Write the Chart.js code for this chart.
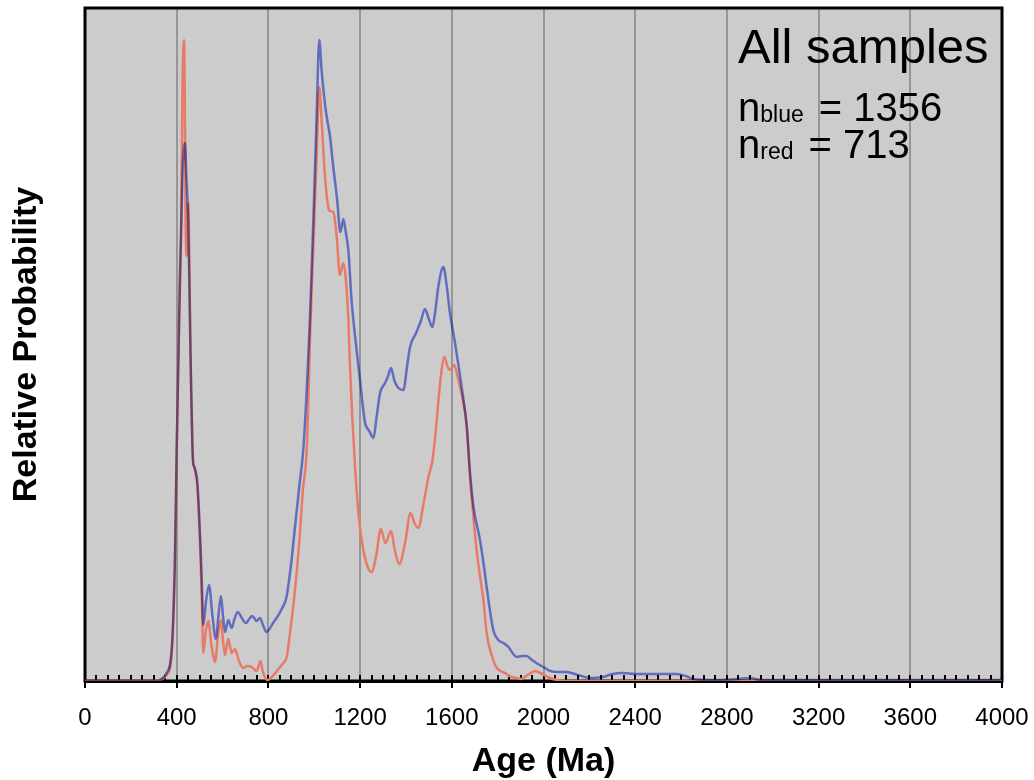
<!DOCTYPE html>
<html>
<head>
<meta charset="utf-8">
<script src="https://cdn.jsdelivr.net/npm/chart.js@4.4.0/dist/chart.umd.min.js"></script>
<style>
html, body { margin: 0; padding: 0; background: #fff; overflow: hidden; }
#wrap { width: 1034px; height: 780px; }
</style>
</head>
<body>
<div id="wrap"><canvas id="chart"></canvas></div>
<script>
// Age (Ma) and relative probability (arbitrary units)
const blueAges = [0, 300, 327, 356, 378, 393, 400, 408, 414, 420, 425, 430, 436, 442, 450, 455, 460, 466, 471, 477,
    484, 490, 496, 503, 510, 516, 528, 541, 556, 571, 582, 593, 602, 611, 618, 625, 640, 652, 666, 684,
    702, 716, 730, 749, 763, 778, 792, 805, 820, 836, 858, 879, 898, 916, 935, 952, 967, 981, 996, 1010,
    1022, 1032, 1050, 1069, 1083, 1100, 1114, 1127, 1138, 1149, 1163, 1178, 1200, 1221, 1240, 1258, 1272, 1287, 1309, 1322,
    1335, 1350, 1367, 1389, 1405, 1418, 1444, 1465, 1483, 1500, 1515, 1528, 1541, 1563, 1578, 1592, 1614, 1643, 1665, 1679,
    1694, 1723, 1740, 1752, 1781, 1803, 1825, 1847, 1865, 1883, 1905, 1926, 1950, 1975, 1999, 2030, 2060, 2101, 2150, 2203,
    2260, 2300, 2348, 2400, 2450, 2520, 2581, 2620, 2654, 2750, 2850, 2901, 2950, 3000, 3500, 4000];
const blueProb = [0, 0, 1, 8, 31, 131, 231, 330, 400, 460, 505, 530, 538, 505, 461, 400, 330, 260, 220, 214,
    208, 199, 175, 140, 95, 56, 80, 96, 65, 42, 65, 85, 65, 49, 55, 61, 53, 62, 69, 63,
    58, 62, 65, 60, 63, 55, 49, 52, 58, 63, 72, 84, 115, 154, 195, 231, 290, 361, 460, 563,
    641, 611, 571, 544, 514, 481, 449, 462, 448, 430, 380, 345, 300, 259, 250, 243, 264, 288, 298, 305,
    313, 300, 293, 291, 315, 334, 348, 360, 372, 362, 354, 370, 394, 414, 395, 368, 338, 294, 255, 210,
    175, 141, 115, 94, 51, 41, 38, 34, 28, 24, 25, 25, 21, 17, 14, 10, 9, 9, 6, 3,
    4, 7, 8, 7, 7, 7, 7, 5, 2, 1, 2, 3, 1, 1, 1, 1];

const redAges = [0, 300, 327, 356, 378, 393, 400, 408, 414, 420, 425, 432, 436, 439, 443, 447, 451, 455, 462, 468,
    472, 477, 484, 490, 496, 503, 510, 516, 527, 538, 552, 567, 580, 593, 602, 611, 618, 625, 640, 654,
    672, 690, 708, 727, 749, 760, 766, 775, 795, 810, 830, 851, 865, 880, 898, 916, 935, 950, 967, 984,
    996, 1010, 1022, 1032, 1047, 1061, 1069, 1083, 1098, 1112, 1127, 1138, 1149, 1156, 1178, 1196, 1214, 1235, 1250, 1270,
    1290, 1311, 1335, 1352, 1371, 1396, 1420, 1437, 1454, 1475, 1498, 1516, 1530, 1549, 1568, 1580, 1592, 1610, 1625, 1636,
    1650, 1665, 1679, 1694, 1708, 1723, 1738, 1752, 1775, 1796, 1832, 1860, 1883, 1900, 1930, 1963, 1995, 2028, 2060, 2100,
    4000];
const redProb = [0, 0, 1, 6, 28, 125, 231, 330, 400, 460, 590, 641, 560, 461, 425, 445, 478, 420, 300, 240,
    218, 214, 206, 195, 170, 130, 80, 28, 50, 60, 35, 19, 45, 61, 40, 26, 35, 42, 28, 32,
    20, 13, 15, 14, 10, 17, 20, 10, 1, 3, 8, 14, 18, 24, 55, 91, 140, 190, 231, 361,
    435, 522, 594, 561, 504, 474, 470, 469, 444, 406, 418, 401, 361, 314, 214, 160, 131, 113, 109, 125,
    152, 138, 150, 130, 117, 138, 168, 158, 153, 175, 204, 221, 250, 298, 324, 315, 311, 316, 305, 294,
    279, 255, 205, 165, 131, 105, 81, 48, 25, 13, 8, 4, 3, 2, 6, 10, 7, 3, 1, 0,
    0];

const xTicks = [0, 400, 800, 1200, 1600, 2000, 2400, 2800, 3200, 3600, 4000];
const minorStep = 50;

const toPoints = (xs, ys) => xs.map((x, i) => ({ x: x, y: ys[i] }));

const FONT = '"Liberation Sans", Arial, sans-serif';

const framePlugin = {
    id: 'frame',
    beforeDraw(chart) {
        const { ctx, chartArea: a } = chart;
        ctx.save();
        ctx.fillStyle = 'rgb(204,204,204)';
        ctx.fillRect(a.left, a.top, a.right - a.left, a.bottom - a.top);
        ctx.restore();
    },
    beforeDatasetsDraw(chart) {
        const { ctx, chartArea: a, scales } = chart;
        const x = scales.x;
        ctx.save();
        ctx.strokeStyle = '#000';
        ctx.lineWidth = 3;
        ctx.strokeRect(a.left, a.top, a.right - a.left, a.bottom - a.top);
        // minor ticks pointing inward
        ctx.lineWidth = 2;
        ctx.beginPath();
        for (let v = 0; v <= 4000; v += minorStep) {
            const px = Math.round(x.getPixelForValue(v));
            ctx.moveTo(px, a.bottom);
            ctx.lineTo(px, a.bottom - 6);
        }
        ctx.stroke();
        ctx.restore();
    },
    beforeDatasetDraw(chart, args) {
        if (args.index === 0) {
            chart.ctx.save();
            chart.ctx.globalCompositeOperation = 'multiply';
        }
    },
    afterDatasetDraw(chart, args) {
        if (args.index === 0) chart.ctx.restore();
    },
    afterDraw(chart) {
        const ctx = chart.ctx;
        ctx.save();
        ctx.fillStyle = '#000';
        ctx.textBaseline = 'alphabetic';
        ctx.font = '49px ' + FONT;
        ctx.fillText('All samples', 738, 63);
        const lines = [['blue', '= 1356', 121], ['red', '= 713', 158]];
        lines.forEach(([sub, rest, y]) => {
            let xx = 738;
            ctx.font = '40px ' + FONT;
            ctx.fillText('n', xx, y);
            xx += ctx.measureText('n').width;
            ctx.font = '23px ' + FONT;
            ctx.fillText(sub, xx, y + 1);
            xx += ctx.measureText(sub).width + 15;
            ctx.font = '40px ' + FONT;
            ctx.fillText(rest, xx, y);
        });
        ctx.restore();
    }
};

new Chart(document.getElementById('chart'), {
    type: 'line',
    data: {
        datasets: [{
            label: 'blue',
            data: toPoints(blueAges, blueProb),
            borderColor: 'rgb(122,137,237)',
            borderWidth: 2.5,
            pointRadius: 0,
            cubicInterpolationMode: 'monotone',
            fill: false
        }, {
            label: 'red',
            data: toPoints(redAges, redProb),
            borderColor: 'rgb(232,122,104)',
            borderWidth: 2.5,
            pointRadius: 0,
            cubicInterpolationMode: 'monotone',
            fill: false
        }]
    },
    options: {
        responsive: true,
        maintainAspectRatio: false,
        animation: false,
        layout: { padding: { left: 0, right: 32, top: 8, bottom: 0 } },
        plugins: {
            legend: { display: false },
            tooltip: { enabled: false }
        },
        scales: {
            x: {
                type: 'linear',
                min: 0,
                max: 4000,
                afterBuildTicks: s => { s.ticks = xTicks.map(v => ({ value: v })); },
                afterFit: s => { s.height = 99; s.paddingLeft = 0; s.paddingRight = 0; },
                ticks: {
                    color: '#000',
                    font: { family: FONT, size: 24, lineHeight: 1.2 },
                    padding: 16,
                    maxRotation: 0,
                    callback: v => String(v)
                },
                grid: {
                    color: 'rgb(150,150,150)',
                    lineWidth: 2,
                    tickLength: 7,
                    tickColor: '#000',
                    tickWidth: 2
                },
                border: { display: true, color: '#000', width: 3 },
                title: {
                    display: true,
                    text: 'Age (Ma)',
                    color: '#000',
                    font: { family: FONT, size: 34, weight: 'bold', lineHeight: 1 },
                    padding: { top: 0, bottom: 1 }
                }
            },
            y: {
                min: 0,
                max: 673,
                afterFit: s => { s.width = 85; },
                ticks: { display: false },
                grid: { display: false },
                border: { display: false },
                title: {
                    display: true,
                    text: 'Relative Probability',
                    color: '#000',
                    font: { family: FONT, size: 34, weight: 'bold', lineHeight: 1 },
                    padding: { top: 10, bottom: 0 }
                }
            }
        }
    },
    plugins: [framePlugin]
});
</script>
</body>
</html>
